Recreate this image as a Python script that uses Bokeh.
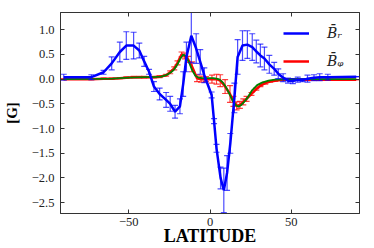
import numpy as np
import pandas as pd
from bokeh.plotting import figure
from bokeh.models import (Range1d, LinearAxis, FixedTicker, CustomJSTickFormatter,
                          Legend, LegendItem, ColumnDataSource)
from bokeh.embed import file_html
from bokeh.resources import INLINE

# ---- data ----
lat_r = [-90, -73, -65.5, -60.5, -55.5, -51.5, -47, -43.5, -40.5, -37.5,
         -34.5, -31, -27, -24.5, -21.5, -18.5, -16.5, -14.5, -11.5, -8.5,
         -6, -3.5, 1, 2.5, 4, 6.5, 8.5, 10.5, 12.5, 15,
         17, 20, 23, 26, 28.5, 31, 33.5, 36.5, 39.5, 42,
         45, 48, 51, 54, 57, 60, 64, 67.5, 72.5, 90]
val_r = [0.04, 0.04, 0.14, 0.32, 0.55, 0.68, 0.68, 0.58, 0.36, 0.15,
         -0.15, -0.3, -0.42, -0.5, -0.66, -0.55, -0.1, 0.45, 0.88, 0.62,
         0.35, 0.08, -0.32, -0.85, -1.4, -2.0, -2.25, -1.9, -1.3, -0.38,
         0.45, 0.68, 0.7, 0.65, 0.56, 0.48, 0.42, 0.3, 0.21, 0.11,
         0.03, -0.03, -0.04, -0.01, -0.02, 0.01, 0.03, 0.04, 0.04, 0.05]
err_r = [0.06, 0.05, 0.04, 0.13, 0.2, 0.28, 0.27, 0.15, 0.1, 0.05,
         0.1, 0.12, 0.15, 0.15, 0.13, 0.15, 0.25, 0.3, 0.55, 0.3,
         0.25, 0.15, 0.06, 0.05, 0.08, 0.22, 0.45, 0.35, 0.2, 0.3,
         0.35, 0.3, 0.28, 0.27, 0.23, 0.23, 0.23, 0.18, 0.13, 0.1,
         0.08, 0.05, 0.05, 0.05, 0.03, 0.07, 0.06, 0.07, 0.06, 0.0]

lat_p = [-90, -73, -65.5, -60.5, -55.5, -51.5, -47, -43.5, -40.5, -37.5,
         -34.5, -31, -27, -24.5, -22, -20, -17.5, -15.5, -13.5, -11,
         -8, -5.5, -2.5, 1.2, 4, 6.3, 9.3, 12.3, 14.4, 16.4,
         18.4, 20.5, 22.5, 25.5, 28.5, 31, 34, 37, 40, 45,
         50, 57, 64, 72.5, 90]
val_p = [0.0, 0.0, 0.01, 0.01, 0.02, 0.03, 0.04, 0.04, 0.04, 0.04,
         0.04, 0.05, 0.08, 0.14, 0.22, 0.33, 0.5, 0.47, 0.4, 0.25,
         0.02, 0.0, 0.0, 0.0, 0.0, -0.03, -0.15, -0.3, -0.45, -0.54,
         -0.52, -0.46, -0.4, -0.3, -0.2, -0.13, -0.08, -0.05, -0.03, -0.01,
         0.0, -0.01, -0.01, -0.01, -0.01]
err_p = [0.01, 0.01, 0.01, 0.01, 0.01, 0.015, 0.015, 0.015, 0.015, 0.01,
         0.015, 0.02, 0.02, 0.03, 0.03, 0.04, 0.05, 0.06, 0.06, 0.1,
         0.07, 0.06, 0.05, 0.08, 0.1, 0.12, 0.14, 0.17, 0.1, 0.08,
         0.07, 0.06, 0.05, 0.03, 0.02, 0.02, 0.02, 0.01, 0.01, 0.01,
         0.01, 0.01, 0.01, 0.01, 0.0]

lat_g = [-90, -70, -60, -50, -40, -35, -30, -27, -24, -22,
         -20, -18, -16.5, -15, -13, -11, -9, -7, -5, -2,
         0, 2, 4, 6, 8, 10, 12, 14, 16, 17.5,
         19, 21, 23, 26, 29, 32, 36, 40, 45, 50,
         60, 70, 90]
val_g = [0.0, 0.005, 0.01, 0.03, 0.04, 0.04, 0.05, 0.08, 0.14, 0.2,
         0.3, 0.43, 0.5, 0.47, 0.35, 0.18, 0.07, 0.03, 0.02, 0.02,
         0.02, 0.02, 0.01, -0.01, -0.07, -0.17, -0.3, -0.44, -0.53, -0.56,
         -0.53, -0.46, -0.38, -0.22, -0.12, -0.07, -0.03, -0.01, -0.005, 0.0,
         0.0, 0.0, 0.0]

x_ticks = [-50, 0, 50]
y_ticks = [-2.5, -2.0, -1.5, -1.0, -0.5, 0.0, 0.5, 1.0]
label_r = "B\u0304\u1d63"
label_p = "B\u0304\u1d69"
x_title = "LATITUDE"
y_title = "[G]"

df_r = pd.DataFrame({"lat": lat_r, "val": val_r, "err": err_r})
df_r["lo"] = df_r["val"] - df_r["err"]
df_r["hi"] = df_r["val"] + df_r["err"]
df_p = pd.DataFrame({"lat": lat_p, "val": val_p, "err": err_p})
df_p["lo"] = df_p["val"] - df_p["err"]
df_p["hi"] = df_p["val"] + df_p["err"]
src_r = ColumnDataSource(df_r)
src_p = ColumnDataSource(df_p)
src_g = ColumnDataSource(pd.DataFrame({"lat": lat_g, "val": val_g}))

BLUE = "#0000ff"
RED = "#ff0000"
GREEN = "#008000"
AX = "#333333"
SERIF = "Liberation Serif"

p = figure(width=374, height=248, output_backend="svg", toolbar_location=None,
           x_range=Range1d(-92, 92), y_range=Range1d(-2.72, 1.35),
           min_border_left=56, min_border_right=15, min_border_top=12,
           min_border_bottom=34)
p.xgrid.visible = False
p.ygrid.visible = False
p.outline_line_color = AX
p.outline_line_width = 1
p.background_fill_color = "white"
p.border_fill_color = "white"

# red data + fit
p.segment(x0="lat", y0="lo", x1="lat", y1="hi", source=src_p,
          line_color=RED, line_alpha=0.75, line_width=1.2)
p.scatter(x="lat", y="lo", source=src_p, marker="dash", size=6,
          line_color=RED, line_alpha=0.75, line_width=1.2)
p.scatter(x="lat", y="hi", source=src_p, marker="dash", size=6,
          line_color=RED, line_alpha=0.75, line_width=1.2)
red_line = p.line(x="lat", y="val", source=src_p, line_color=RED, line_width=2.5)
p.line(x="lat", y="val", source=src_g, line_color=GREEN, line_width=1.8)

# blue data
p.segment(x0="lat", y0="lo", x1="lat", y1="hi", source=src_r,
          line_color=BLUE, line_alpha=0.7, line_width=1.2)
p.scatter(x="lat", y="lo", source=src_r, marker="dash", size=6,
          line_color=BLUE, line_alpha=0.7, line_width=1.2)
p.scatter(x="lat", y="hi", source=src_r, marker="dash", size=6,
          line_color=BLUE, line_alpha=0.7, line_width=1.2)
blue_line = p.line(x="lat", y="val", source=src_r, line_color=BLUE, line_width=2.5)

xfmt = CustomJSTickFormatter(code="return tick.toFixed(0).replace('-', '\\u2212');")
yfmt = CustomJSTickFormatter(code="return tick.toFixed(1).replace('-', '\\u2212');")
blank = CustomJSTickFormatter(code="return '';")


def style(ax, ticks, fmt):
    ax.ticker = FixedTicker(ticks=ticks)
    ax.formatter = fmt
    ax.axis_line_color = AX
    ax.major_tick_line_color = AX
    ax.major_tick_in = 4
    ax.major_tick_out = 0
    ax.minor_tick_line_color = None
    ax.major_label_text_font = SERIF
    ax.major_label_text_color = "#222222"
    ax.major_label_text_font_size = "12.5px"
    ax.axis_label_text_font = SERIF
    ax.axis_label_text_font_style = "bold"
    ax.axis_label_text_color = "black"


xa = p.xaxis[0]
style(xa, x_ticks, xfmt)
xa.major_label_standoff = 4
xa.axis_label = x_title
xa.axis_label_text_font_size = "18px"
xa.axis_label_standoff = -3

ya = p.yaxis[0]
style(ya, y_ticks, yfmt)
ya.major_label_standoff = 6
ya.axis_label = y_title
ya.axis_label_text_font_size = "15px"
ya.axis_label_standoff = 9

top = LinearAxis()
style(top, x_ticks, blank)
top.major_label_standoff = 0
p.add_layout(top, "above")
right = LinearAxis()
style(right, y_ticks, blank)
right.major_label_standoff = 0
p.add_layout(right, "right")

legend = Legend(items=[LegendItem(label=label_r, renderers=[blue_line]),
                       LegendItem(label=label_p, renderers=[red_line])],
                location=(223, 142), padding=0, margin=0, spacing=8,
                glyph_width=26, glyph_height=20, label_height=20, label_standoff=18,
                label_text_font="DejaVu Serif", label_text_font_style="italic",
                label_text_font_size="14px", label_text_color="#222222",
                border_line_alpha=0, background_fill_alpha=0)
p.add_layout(legend)

open("out.html", "w").write(file_html(p, INLINE))
